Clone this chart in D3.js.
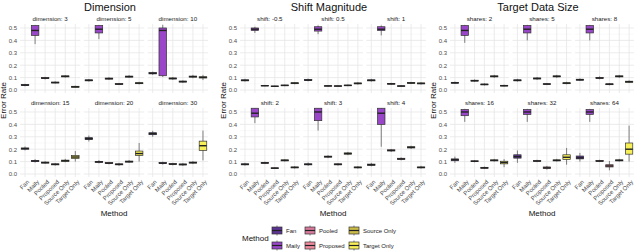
<!DOCTYPE html>
<html>
<head>
<meta charset="utf-8">
<script src="https://cdn.jsdelivr.net/npm/d3@7"></script>
<style>
  body { margin: 0; background: #fff; }
  text { font-family: "Liberation Sans", Arial, sans-serif; }
</style>
</head>
<body>
<svg id="chart" width="640" height="251"></svg>
<script>
const methods = ['Fan', 'Maily', 'Pooled', 'Proposed', 'Source Only', 'Target Only'];
const methodColors = ['#5c3592', '#9a46c8', '#d97a9c', '#ef8b9d', '#cbbb47', '#f7ef58'];
const yTicks = [0, 0.1, 0.2, 0.3, 0.4, 0.5];

const groupTitles = ['Dimension', 'Shift Magnitude', 'Target Data Size'];
const dimensionLabels = ['dimension: 3', 'dimension: 5', 'dimension: 10', 'dimension: 15', 'dimension: 20', 'dimension: 30'];
const shiftLabels = ['shift: -0.5', 'shift: 0.5', 'shift: 1', 'shift: 2', 'shift: 3', 'shift: 4'];
const sharesLabels = ['shares: 2', 'shares: 5', 'shares: 8', 'shares: 16', 'shares: 32', 'shares: 64'];

// each facet: one [lower whisker, q1, median, q3, upper whisker] per method
const dimensionStats = [
  [[0.030,0.036,0.040,0.044,0.050],[0.37,0.44,0.48,0.52,0.52],[0.085,0.092,0.096,0.100,0.106],[0.052,0.057,0.060,0.064,0.070],[0.100,0.106,0.110,0.114,0.120],[0.018,0.022,0.026,0.030,0.035]],
  [[0.068,0.074,0.078,0.082,0.088],[0.41,0.46,0.49,0.52,0.52],[0.082,0.088,0.092,0.096,0.104],[0.040,0.045,0.048,0.052,0.057],[0.098,0.104,0.108,0.112,0.120],[0.045,0.051,0.055,0.059,0.066]],
  [[0.122,0.130,0.135,0.140,0.148],[0.105,0.115,0.48,0.50,0.525],[0.082,0.089,0.093,0.097,0.105],[0.058,0.064,0.068,0.072,0.078],[0.095,0.104,0.108,0.112,0.122],[0.080,0.097,0.102,0.107,0.122]],
  [[0.190,0.200,0.205,0.210,0.222],[0.092,0.100,0.105,0.110,0.120],[0.082,0.088,0.092,0.096,0.103],[0.068,0.074,0.078,0.082,0.088],[0.095,0.102,0.107,0.112,0.122],[0.100,0.125,0.137,0.150,0.185]],
  [[0.262,0.277,0.285,0.293,0.310],[0.086,0.094,0.098,0.102,0.112],[0.078,0.084,0.088,0.092,0.098],[0.066,0.074,0.078,0.082,0.090],[0.090,0.096,0.100,0.104,0.112],[0.100,0.150,0.165,0.185,0.250]],
  [[0.300,0.317,0.325,0.333,0.348],[0.076,0.084,0.088,0.092,0.100],[0.070,0.076,0.080,0.084,0.090],[0.066,0.073,0.077,0.081,0.088],[0.080,0.088,0.092,0.096,0.104],[0.110,0.190,0.228,0.265,0.350]]
];
const shiftStats = [
  [[0.068,0.074,0.078,0.082,0.090],[0.46,0.48,0.49,0.50,0.51],[0.030,0.033,0.035,0.037,0.041],[0.025,0.028,0.030,0.032,0.035],[0.031,0.035,0.037,0.040,0.044],[0.046,0.051,0.055,0.059,0.064]],
  [[0.070,0.076,0.080,0.084,0.092],[0.45,0.475,0.49,0.51,0.52],[0.028,0.031,0.033,0.035,0.039],[0.027,0.030,0.032,0.034,0.037],[0.031,0.035,0.037,0.040,0.044],[0.044,0.050,0.053,0.057,0.064]],
  [[0.068,0.074,0.078,0.082,0.090],[0.44,0.48,0.49,0.51,0.52],[0.042,0.047,0.050,0.053,0.058],[0.026,0.030,0.032,0.034,0.038],[0.048,0.054,0.057,0.060,0.066],[0.044,0.050,0.053,0.057,0.064]],
  [[0.068,0.074,0.078,0.082,0.090],[0.41,0.46,0.49,0.53,0.53],[0.080,0.086,0.090,0.094,0.100],[0.040,0.044,0.047,0.050,0.055],[0.100,0.106,0.110,0.114,0.120],[0.044,0.050,0.053,0.057,0.064]],
  [[0.066,0.074,0.078,0.082,0.092],[0.35,0.43,0.50,0.53,0.53],[0.128,0.136,0.140,0.144,0.152],[0.068,0.074,0.078,0.082,0.088],[0.152,0.160,0.165,0.170,0.178],[0.044,0.050,0.053,0.057,0.064]],
  [[0.062,0.070,0.075,0.080,0.090],[0.22,0.40,0.49,0.53,0.53],[0.178,0.186,0.190,0.195,0.202],[0.110,0.117,0.122,0.127,0.134],[0.202,0.210,0.215,0.220,0.228],[0.044,0.050,0.053,0.057,0.066]]
];
const sharesStats = [
  [[0.050,0.055,0.058,0.062,0.068],[0.38,0.44,0.48,0.52,0.52],[0.066,0.072,0.075,0.079,0.085],[0.037,0.042,0.045,0.048,0.054],[0.098,0.106,0.110,0.114,0.122],[0.028,0.032,0.035,0.038,0.043]],
  [[0.068,0.074,0.078,0.082,0.090],[0.40,0.46,0.49,0.52,0.52],[0.082,0.089,0.093,0.097,0.105],[0.040,0.045,0.048,0.051,0.056],[0.098,0.106,0.110,0.114,0.122],[0.046,0.051,0.055,0.059,0.066]],
  [[0.073,0.079,0.083,0.087,0.094],[0.40,0.46,0.49,0.52,0.52],[0.086,0.093,0.097,0.101,0.110],[0.038,0.043,0.047,0.050,0.056],[0.098,0.106,0.110,0.114,0.122],[0.056,0.062,0.067,0.071,0.078]],
  [[0.090,0.107,0.115,0.122,0.140],[0.42,0.47,0.50,0.52,0.52],[0.094,0.100,0.103,0.106,0.112],[0.040,0.046,0.050,0.054,0.060],[0.100,0.106,0.110,0.114,0.122],[0.055,0.082,0.093,0.103,0.120]],
  [[0.090,0.128,0.140,0.155,0.190],[0.42,0.48,0.50,0.52,0.52],[0.096,0.102,0.105,0.108,0.115],[0.035,0.044,0.050,0.057,0.066],[0.100,0.106,0.110,0.114,0.122],[0.075,0.118,0.135,0.155,0.210]],
  [[0.100,0.122,0.130,0.145,0.170],[0.42,0.48,0.50,0.52,0.52],[0.096,0.102,0.105,0.108,0.115],[0.030,0.057,0.065,0.075,0.105],[0.100,0.106,0.110,0.114,0.122],[0.100,0.160,0.200,0.250,0.390]]
];

const groups = [
  {title: groupTitles[0], labels: dimensionLabels, stats: dimensionStats, x0: 20, w: 188},
  {title: groupTitles[1], labels: shiftLabels, stats: shiftStats, x0: 240, w: 186},
  {title: groupTitles[2], labels: sharesLabels, stats: sharesStats, x0: 450, w: 184}
];

const gap = 3.5;
const rowTops = [24, 108];
const panelH = 69;
const svg = d3.select('#chart');
const color = d3.scaleOrdinal().domain(methods).range(methodColors);

groups.forEach(g => {
  const pw = (g.w - 2 * gap) / 3;
  const gEl = svg.append('g');

  gEl.append('text')
    .attr('x', g.x0 + g.w / 2 - 4).attr('y', 11)
    .attr('text-anchor', 'middle')
    .attr('font-size', 11).attr('fill', '#111')
    .text(g.title);

  gEl.append('text')
    .attr('transform', `translate(${g.x0 - 14},${(rowTops[0] + rowTops[1] + panelH) / 2}) rotate(-90)`)
    .attr('text-anchor', 'middle')
    .attr('font-size', 8).attr('fill', '#111')
    .text('Error Rate');

  gEl.append('text')
    .attr('x', g.x0 + g.w / 2).attr('y', 216)
    .attr('text-anchor', 'middle')
    .attr('font-size', 8).attr('fill', '#111')
    .text('Method');

  g.stats.forEach((facet, i) => {
    const col = i % 3, row = Math.floor(i / 3);
    const px = g.x0 + col * (pw + gap);
    const top = rowTops[row];

    const x = d3.scaleBand().domain(methods).range([px, px + pw]);
    const y = d3.scaleLinear().domain([-0.024, 0.532]).range([top + panelH, top]);
    const p = gEl.append('g');

    // strip label
    p.append('text')
      .attr('x', px + pw / 2).attr('y', top - 3)
      .attr('text-anchor', 'middle')
      .attr('font-size', 6.2).attr('fill', '#1a1a1a')
      .text(g.labels[i]);

    // minor grid
    p.selectAll('.minor').data([0.05, 0.15, 0.25, 0.35, 0.45]).join('line')
      .attr('x1', px).attr('x2', px + pw)
      .attr('y1', d => y(d)).attr('y2', d => y(d))
      .attr('stroke', '#f2f2f2').attr('stroke-width', 0.5);
    // major grid
    p.selectAll('.major').data(yTicks).join('line')
      .attr('x1', px).attr('x2', px + pw)
      .attr('y1', d => y(d)).attr('y2', d => y(d))
      .attr('stroke', '#e6e6e6').attr('stroke-width', 0.8);
    p.selectAll('.vgrid').data(methods).join('line')
      .attr('x1', d => x(d) + x.bandwidth() / 2).attr('x2', d => x(d) + x.bandwidth() / 2)
      .attr('y1', top).attr('y2', top + panelH)
      .attr('stroke', '#e6e6e6').attr('stroke-width', 0.8);

    if (col === 0) {
      p.append('g')
        .attr('transform', `translate(${px - 1},0)`)
        .call(d3.axisLeft(y).tickValues(yTicks).tickFormat(d3.format('.1f')).tickSize(0).tickPadding(2))
        .call(a => a.select('.domain').remove())
        .call(a => a.selectAll('text').attr('font-size', 6).attr('fill', '#4d4d4d')
          .attr('font-family', '"Liberation Sans", Arial, sans-serif'));
    }

    if (row === 1) {
      p.selectAll('.xlab').data(methods).join('text')
        .attr('transform', d => `translate(${x(d) + x.bandwidth() / 2 + 1.5},${top + panelH + 2.5}) rotate(-45)`)
        .attr('text-anchor', 'end')
        .attr('dy', '0.7em')
        .attr('font-size', 6).attr('fill', '#4d4d4d')
        .text(d => d);
    }

    const bw = x.bandwidth() * 0.75;
    const boxes = p.selectAll('.box').data(facet.map((s, k) => ({m: methods[k], s}))).join('g');
    boxes.append('line')
      .attr('x1', d => x(d.m) + x.bandwidth() / 2).attr('x2', d => x(d.m) + x.bandwidth() / 2)
      .attr('y1', d => y(d.s[0])).attr('y2', d => y(d.s[4]))
      .attr('stroke', '#333').attr('stroke-width', 0.6);
    boxes.append('rect')
      .attr('x', d => x(d.m) + (x.bandwidth() - bw) / 2)
      .attr('width', bw)
      .attr('y', d => y(d.s[3]))
      .attr('height', d => y(d.s[1]) - y(d.s[3]))
      .attr('fill', d => color(d.m))
      .attr('stroke', '#333').attr('stroke-width', 0.7);
    boxes.append('line')
      .attr('x1', d => x(d.m) + (x.bandwidth() - bw) / 2).attr('x2', d => x(d.m) + (x.bandwidth() + bw) / 2)
      .attr('y1', d => y(d.s[2])).attr('y2', d => y(d.s[2]))
      .attr('stroke', '#222').attr('stroke-width', 1.4);
  });
});

// legend
const leg = svg.append('g');
leg.append('text')
  .attr('x', 242).attr('y', 241)
  .attr('font-size', 8).attr('fill', '#111')
  .text('Method');
const legCols = [272, 305, 349];
methods.forEach((m, k) => {
  const cx = legCols[Math.floor(k / 2)];
  const cy = k % 2 === 0 ? 230.5 : 245.5;
  const item = leg.append('g');
  item.append('line')
    .attr('x1', cx + 5).attr('x2', cx + 5)
    .attr('y1', cy - 5).attr('y2', cy + 5)
    .attr('stroke', '#333').attr('stroke-width', 0.6);
  item.append('rect')
    .attr('x', cx).attr('y', cy - 3.5).attr('width', 10).attr('height', 7)
    .attr('fill', color(m)).attr('stroke', '#333').attr('stroke-width', 0.7);
  item.append('line')
    .attr('x1', cx).attr('x2', cx + 10)
    .attr('y1', cy).attr('y2', cy)
    .attr('stroke', '#222').attr('stroke-width', 1.2);
  item.append('text')
    .attr('x', cx + 14).attr('y', cy + 2.2)
    .attr('font-size', 6).attr('fill', '#222')
    .text(m);
});
</script>
</body>
</html>
